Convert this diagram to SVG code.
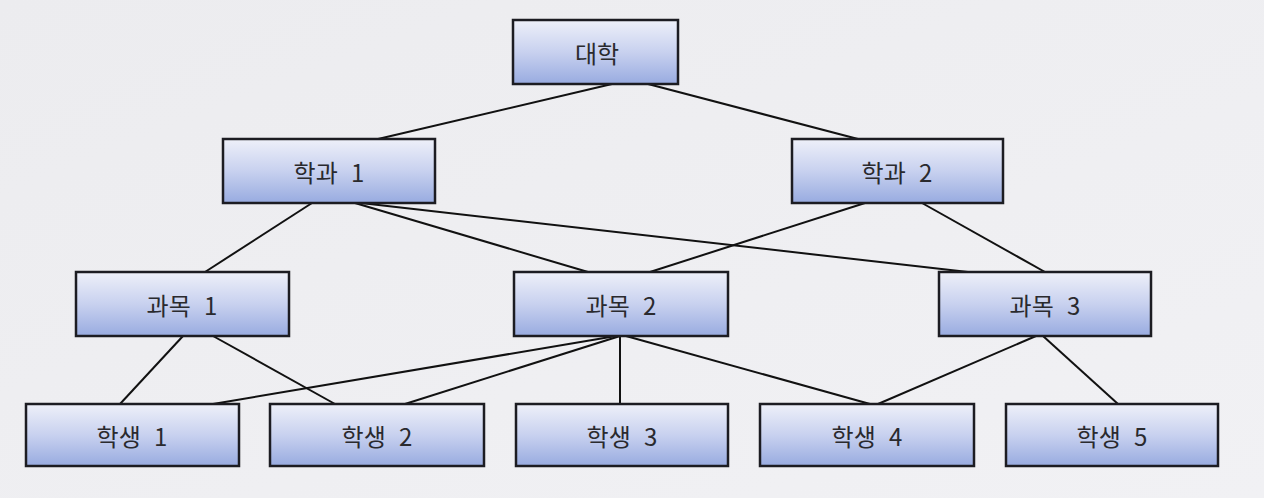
<svg xmlns="http://www.w3.org/2000/svg" width="1264" height="498" viewBox="0 0 1264 498">
<defs>
<linearGradient id="bg" x1="0" y1="0" x2="1" y2="1">
<stop offset="0" stop-color="#ececef"/>
<stop offset="1" stop-color="#f1f1f4"/>
</linearGradient>
<linearGradient id="box" x1="0" y1="0" x2="0" y2="1">
<stop offset="0" stop-color="#eef0f9"/>
<stop offset="0.5" stop-color="#c8d1ef"/>
<stop offset="1" stop-color="#98abe0"/>
</linearGradient>
</defs>
<style>
.n rect{fill:url(#box);stroke:#1c1c22;stroke-width:2.5}
.n text{font-family:"Noto Sans CJK KR","Noto Sans",sans-serif;font-size:24px;fill:#2a2a2e;text-anchor:middle;dominant-baseline:central;word-spacing:8px}
#edges line{stroke:#111;stroke-width:2}
</style>
<rect width="1264" height="498" fill="url(#bg)"/>
<g id="edges">
<line x1="612" y1="84" x2="378" y2="139"/>
<line x1="648" y1="84" x2="858" y2="139"/>
<line x1="312" y1="203" x2="205" y2="272"/>
<line x1="355" y1="203" x2="588" y2="272"/>
<line x1="361" y1="203" x2="968" y2="272"/>
<line x1="865" y1="203" x2="650" y2="272"/>
<line x1="922" y1="203" x2="1045" y2="272"/>
<line x1="183" y1="336" x2="120" y2="404"/>
<line x1="213" y1="336" x2="335" y2="404"/>
<line x1="616" y1="336" x2="213" y2="404"/>
<line x1="620" y1="336" x2="405" y2="404"/>
<line x1="620" y1="336" x2="620" y2="404"/>
<line x1="626" y1="336" x2="870" y2="404"/>
<line x1="1036" y1="336" x2="878" y2="404"/>
<line x1="1043" y1="336" x2="1118" y2="404"/>
</g>
<g id="n-univ" class="n"><rect x="513" y="20" width="165" height="64"/><text x="597" y="52">대학</text></g>
<g id="n-dept1" class="n"><rect x="223" y="139" width="212" height="64"/><text x="329" y="171">학과 1</text></g>
<g id="n-dept2" class="n"><rect x="792" y="139" width="211" height="64"/><text x="897" y="171">학과 2</text></g>
<g id="n-course1" class="n"><rect x="76" y="272" width="213" height="64"/><text x="182" y="304">과목 1</text></g>
<g id="n-course2" class="n"><rect x="514" y="272" width="214" height="64"/><text x="621" y="304">과목 2</text></g>
<g id="n-course3" class="n"><rect x="939" y="272" width="212" height="64"/><text x="1045" y="304">과목 3</text></g>
<g id="n-s1" class="n"><rect x="26" y="404" width="213" height="62"/><text x="132" y="435">학생 1</text></g>
<g id="n-s2" class="n"><rect x="270" y="404" width="214" height="62"/><text x="377" y="435">학생 2</text></g>
<g id="n-s3" class="n"><rect x="516" y="404" width="212" height="62"/><text x="622" y="435">학생 3</text></g>
<g id="n-s4" class="n"><rect x="760" y="404" width="214" height="62"/><text x="867" y="435">학생 4</text></g>
<g id="n-s5" class="n"><rect x="1006" y="404" width="212" height="62"/><text x="1112" y="435">학생 5</text></g>
</svg>
